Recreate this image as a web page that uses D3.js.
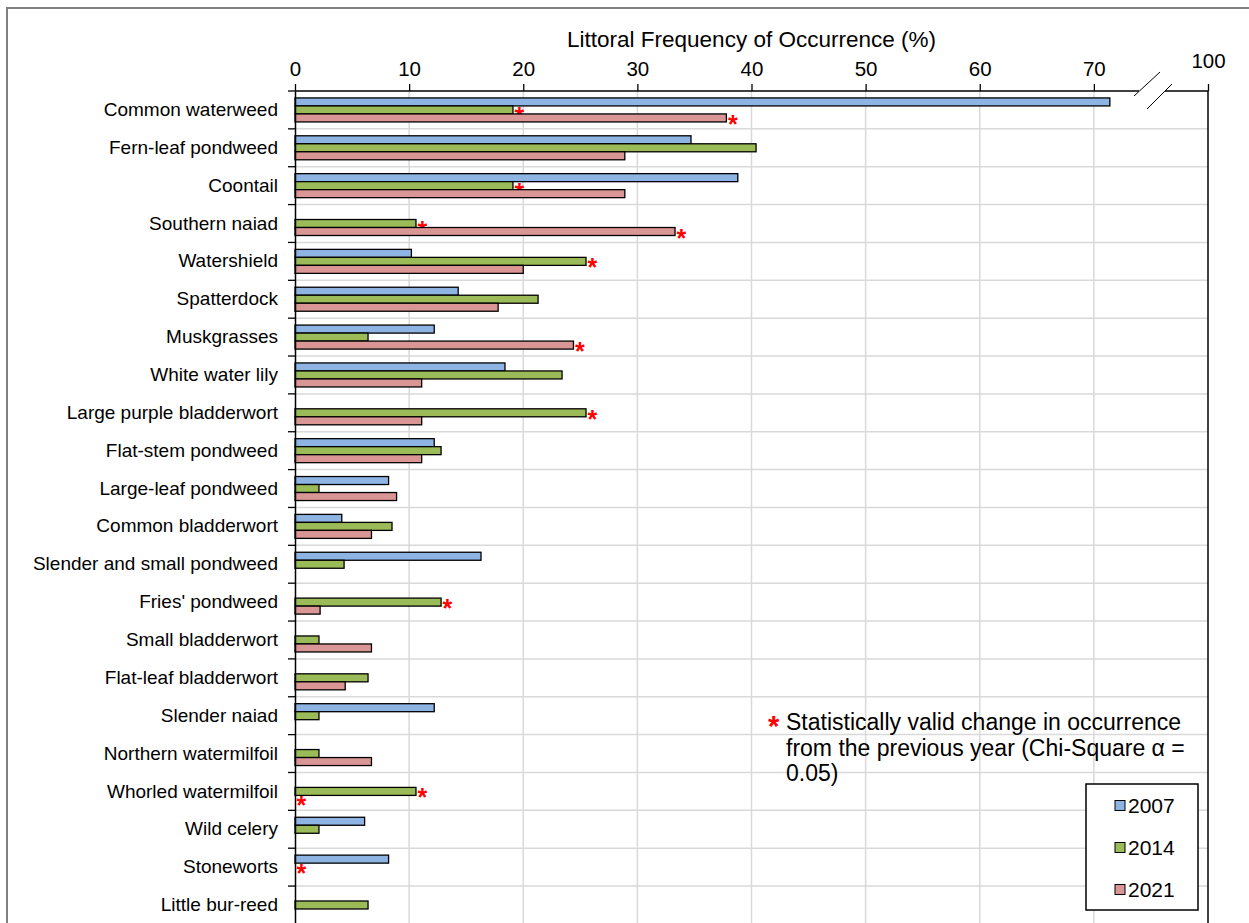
<!DOCTYPE html>
<html>
<head>
<meta charset="utf-8">
<script src="https://cdn.jsdelivr.net/npm/d3@7"></script>
<style>
  body { margin: 0; background: #fff; }
  svg { display: block; font-family: "Liberation Sans", Arial, sans-serif; }
</style>
</head>
<body>
<svg id="chart" width="1249" height="923"></svg>
<script>
// species, top to bottom
const species = [
  "Common waterweed", "Fern-leaf pondweed", "Coontail", "Southern naiad",
  "Watershield", "Spatterdock", "Muskgrasses", "White water lily",
  "Large purple bladderwort", "Flat-stem pondweed", "Large-leaf pondweed",
  "Common bladderwort", "Slender and small pondweed", "Fries' pondweed",
  "Small bladderwort", "Flat-leaf bladderwort", "Slender naiad",
  "Northern watermilfoil", "Whorled watermilfoil", "Wild celery",
  "Stoneworts", "Little bur-reed"
];

// frequency of occurrence (%), null = not found
const v2007 = [71.4, 34.7, 38.8, null, 10.2, 14.3, 12.2, 18.4, null, 12.2, 8.2,
               4.1, 16.3, null, null, null, 12.2, null, null, 6.1, 8.2, null];
const v2014 = [19.1, 40.4, 19.1, 10.6, 25.5, 21.3, 6.4, 23.4, 25.5, 12.8, 2.1,
               8.5, 4.3, 12.8, 2.1, 6.4, 2.1, 2.1, 10.6, 2.1, 0, 6.4];
const v2021 = [37.8, 28.9, 28.9, 33.3, 20.0, 17.8, 24.4, 11.1, 11.1, 11.1, 8.9,
               6.7, null, 2.2, 6.7, 4.4, null, 6.7, 0, null, null, null];

// statistically valid change from previous survey
const sig2014 = ["Common waterweed", "Coontail", "Southern naiad", "Watershield",
                 "Large purple bladderwort", "Fries' pondweed", "Whorled watermilfoil", "Stoneworts"];
const sig2021 = ["Common waterweed", "Southern naiad", "Muskgrasses", "Whorled watermilfoil"];

const years = ["2007", "2014", "2021"];
const colors = ["#8EB4E3", "#9BBB59", "#D99694"];
const xTicks = [0, 10, 20, 30, 40, 50, 60, 70];
const breakTick = 80;      // drawn where 80 would be, labelled 100
const breakLabel = "100";

const series = [v2007, v2014, v2021];
const sigs = [[], sig2014, sig2021];

const svg = d3.select("#chart");
const pLeft = 295, pRight = 1208, pTop = 91, rowH = 37.86;
const pBottom = pTop + rowH * species.length;

const x = d3.scaleLinear().domain([0, 80]).range([pLeft, pRight]);
const y = d3.scaleBand().domain(species).range([pTop, pBottom]).paddingInner(0);
const barH = 8;
const sub = d3.scaleBand().domain(years).range([-12, 12]);

// outer frame
svg.append("path")
  .attr("d", "M7,923 L7,8 L1249,8")
  .attr("fill", "none").attr("stroke", "#808080").attr("stroke-width", 2);

// gridlines
svg.append("g").selectAll("line").data(xTicks.slice(1)).join("line")
  .attr("x1", d => x(d)).attr("x2", d => x(d))
  .attr("y1", pTop).attr("y2", pBottom)
  .attr("stroke", "#d9d9d9").attr("stroke-width", 1.5);

svg.append("g").selectAll("line").data(species.slice(1)).join("line")
  .attr("x1", pLeft).attr("x2", pRight)
  .attr("y1", d => y(d)).attr("y2", d => y(d))
  .attr("stroke", "#d9d9d9").attr("stroke-width", 1.5);

// bars
series.forEach((vals, si) => {
  const g = svg.append("g");
  species.forEach((sp, i) => {
    const v = vals[i];
    if (v === null) return;
    const by = y(sp) + y.bandwidth() / 2 + sub(years[si]);
    if (v > 0) {
      g.append("rect")
        .attr("x", x(0)).attr("y", by)
        .attr("width", x(v) - x(0)).attr("height", barH)
        .attr("fill", colors[si])
        .attr("stroke", "#000").attr("stroke-width", 1.3);
    }
    if (sigs[si].includes(sp)) {
      g.append("text")
        .attr("x", x(v) + 1.5).attr("y", by + barH / 2 + 15)
        .attr("fill", "#ff0000").attr("font-size", 25).attr("font-weight", "bold")
        .text("*");
    }
  });
});

// top axis
const xAxis = d3.axisTop(x).tickValues(xTicks.concat([breakTick]))
  .tickSize(7).tickSizeOuter(0)
  .tickFormat(d => d === breakTick ? breakLabel : d);
const gx = svg.append("g").attr("transform", `translate(0,${pTop})`).call(xAxis);
gx.select(".domain").remove();
gx.selectAll(".tick line").attr("stroke", "#000").attr("stroke-width", 1.3);
gx.selectAll(".tick text").attr("font-size", 20.5).attr("fill", "#000")
  .attr("font-family", "Liberation Sans, Arial, sans-serif")
  .attr("dy", 0).attr("y", -15);
gx.selectAll(".tick text").filter(d => d === breakTick).attr("y", -23);

// axis line with break
svg.append("line").attr("x1", pLeft).attr("x2", 1139).attr("y1", pTop).attr("y2", pTop)
  .attr("stroke", "#000").attr("stroke-width", 1.5);
svg.append("line").attr("x1", 1165).attr("x2", pRight).attr("y1", pTop).attr("y2", pTop)
  .attr("stroke", "#000").attr("stroke-width", 1.5);
svg.append("line").attr("x1", 1134).attr("y1", 96).attr("x2", 1160).attr("y2", 72)
  .attr("stroke", "#000").attr("stroke-width", 1);
svg.append("line").attr("x1", 1147).attr("y1", 109).attr("x2", 1172).attr("y2", 84)
  .attr("stroke", "#000").attr("stroke-width", 1);

// right border
svg.append("line").attr("x1", pRight).attr("x2", pRight).attr("y1", pTop).attr("y2", pBottom)
  .attr("stroke", "#000").attr("stroke-width", 1.5);

// left axis
const yAxis = d3.axisLeft(y).tickSize(0).tickPadding(17);
const gy = svg.append("g").attr("transform", `translate(${pLeft},0)`).call(yAxis);
gy.select(".domain").attr("stroke", "#000").attr("stroke-width", 1.5);
gy.selectAll(".tick text").attr("font-size", 19).attr("fill", "#000")
  .attr("font-family", "Liberation Sans, Arial, sans-serif");
svg.append("g").selectAll("line").data(species).join("line")
  .attr("x1", pLeft - 7).attr("x2", pLeft)
  .attr("y1", d => y(d)).attr("y2", d => y(d))
  .attr("stroke", "#000").attr("stroke-width", 1.3);

// axis title
svg.append("text").attr("x", (pLeft + pRight) / 2).attr("y", 47)
  .attr("text-anchor", "middle").attr("font-size", 22.5).text("Littoral Frequency of Occurrence (%)");

// significance note
const note = svg.append("g");
note.append("text").attr("x", 768).attr("y", 736).attr("fill", "#ff0000")
  .attr("font-size", 29).attr("font-weight", "bold").text("*");
["Statistically valid change in occurrence", "from the previous year (Chi-Square \u03b1 =", "0.05)"]
  .forEach((t, i) => {
    note.append("text").attr("x", 786).attr("y", 730 + i * 25.7)
      .attr("font-size", 23).attr("fill", "#000").text(t);
  });

// legend
const leg = svg.append("g");
leg.append("rect").attr("x", 1086).attr("y", 784).attr("width", 112).attr("height", 126)
  .attr("fill", "#fff").attr("stroke", "#000").attr("stroke-width", 1.5);
years.forEach((yr, i) => {
  const cy = 805.5 + i * 42;
  leg.append("rect").attr("x", 1115).attr("y", cy - 5).attr("width", 10).attr("height", 10)
    .attr("fill", colors[i]).attr("stroke", "#000").attr("stroke-width", 1);
  leg.append("text").attr("x", 1128).attr("y", cy + 7.5).attr("font-size", 21).text(yr);
});
</script>
</body>
</html>
